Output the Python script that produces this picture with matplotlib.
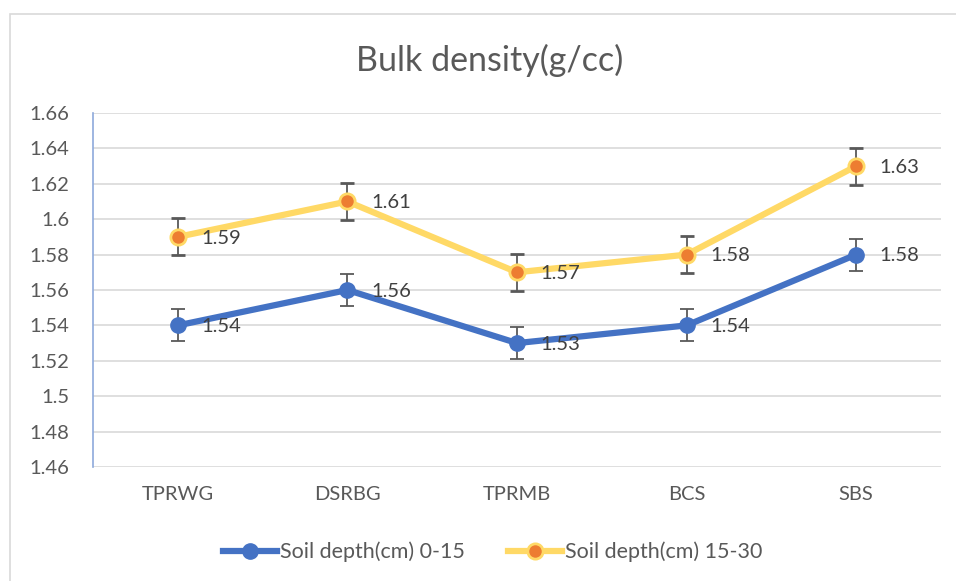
import matplotlib.pyplot as plt
from matplotlib.patches import Rectangle
from matplotlib.lines import Line2D

categories = ["TPRWG", "DSRBG", "TPRMB", "BCS", "SBS"]
depth_0_15 = [1.54, 1.56, 1.53, 1.54, 1.58]
depth_15_30 = [1.59, 1.61, 1.57, 1.58, 1.63]
err_0_15 = [0.009, 0.009, 0.009, 0.009, 0.009]
err_15_30 = [0.0105, 0.0105, 0.0105, 0.0105, 0.0105]
yticks = [1.46, 1.48, 1.5, 1.52, 1.54, 1.56, 1.58, 1.6, 1.62, 1.64, 1.66]
ytick_labels = ["1.46", "1.48", "1.5", "1.52", "1.54", "1.56", "1.58", "1.6", "1.62", "1.64", "1.66"]

plt.rcParams['font.family'] = ['Lato', 'DejaVu Sans']
txt = '#595959'
blue = '#4472C4'
yellow = '#FFD966'
orange = '#ED7D31'

fig = plt.figure(figsize=(9.56, 5.81), dpi=100)
fig.patches.append(Rectangle((10 / 956, -0.05), 1.0, 1.05 - 14 / 581, transform=fig.transFigure,
                             fill=False, edgecolor='#d9d9d9', linewidth=1.2))
ax = fig.add_axes([93 / 956, 1 - 467 / 581, (941 - 93) / 956, (467 - 113) / 581])

x = list(range(len(categories)))
ax.errorbar(x, depth_0_15, yerr=err_0_15, color=blue, linewidth=4.5, marker='o',
            markersize=11, markerfacecolor=blue, markeredgecolor=blue,
            ecolor='#595959', elinewidth=1.3, capsize=5, capthick=1.3, zorder=3)
ax.errorbar(x, depth_15_30, yerr=err_15_30, color=yellow, linewidth=4.5, marker='o',
            markersize=11, markerfacecolor=orange, markeredgecolor=yellow,
            markeredgewidth=2, ecolor='#595959', elinewidth=1.3, capsize=5, capthick=1.3,
            zorder=3)

for xi, v in zip(x, depth_0_15):
    ax.annotate(f"{v:g}", (xi, v), xytext=(17, -1), textcoords='offset points',
                va='center', ha='left', fontsize=14.5, color='#404040', zorder=5)
for xi, v in zip(x, depth_15_30):
    ax.annotate(f"{v:g}", (xi, v), xytext=(17, -1), textcoords='offset points',
                va='center', ha='left', fontsize=14.5, color='#404040', zorder=5)

ax.set_xlim(-0.5, len(categories) - 0.5)
ax.set_ylim(1.46, 1.66)
ax.set_yticks(yticks)
ax.set_yticklabels(ytick_labels)
ax.set_xticks(x)
ax.set_xticklabels(categories)
ax.tick_params(axis='both', length=0, labelsize=14.5, labelcolor=txt)
ax.tick_params(axis='y', pad=17)
ax.tick_params(axis='x', pad=14)
ax.grid(axis='y', color='#d9d9d9', linewidth=1.2)
ax.set_axisbelow(True)
for s in ['top', 'right', 'bottom']:
    ax.spines[s].set_visible(False)
ax.spines['left'].set_color('#8EA9DB')
ax.spines['left'].set_linewidth(1.2)

fig.text(490 / 956, 1 - 60 / 581, "Bulk density(g/cc)", ha='center', va='center',
         fontsize=24.5, color=txt)

handles = [
    Line2D([], [], color=blue, linewidth=4.5, marker='o', markersize=11,
           markerfacecolor=blue, markeredgecolor=blue),
    Line2D([], [], color=yellow, linewidth=4.5, marker='o', markersize=11,
           markerfacecolor=orange, markeredgecolor=yellow, markeredgewidth=2),
]
labels = ['Soil depth(cm) 0-15', 'Soil depth(cm) 15-30']
leg = fig.legend(handles, labels, loc='center', bbox_to_anchor=(493 / 956, 1 - 552 / 581),
                 ncol=2, frameon=False, fontsize=15.5, handlelength=2.5, columnspacing=2.0,
                 handletextpad=0.15)
for t in leg.get_texts():
    t.set_color(txt)

fig.savefig('out.png', dpi=100)
